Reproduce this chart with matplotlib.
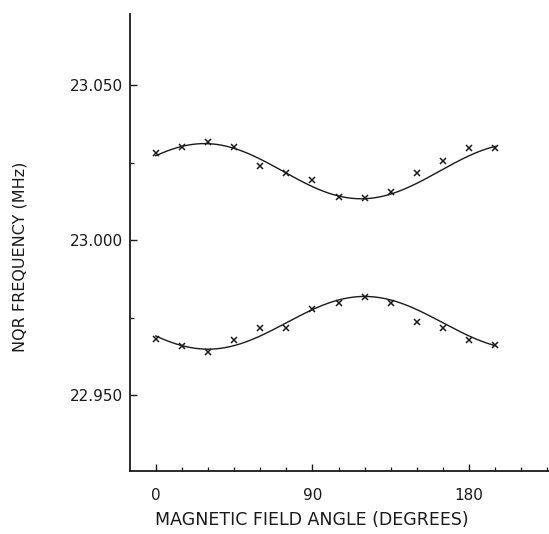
import numpy as np
import matplotlib
matplotlib.use("Agg")
import matplotlib.pyplot as plt
from matplotlib.ticker import MultipleLocator, FixedLocator

# ---- data ----
angles = [0, 15, 30, 45, 60, 75, 90, 105, 120, 135, 150, 165, 180, 195]
upper_freq = [23.0280, 23.0300, 23.0317, 23.0300, 23.0238, 23.0217, 23.0195,
              23.0138, 23.0135, 23.0156, 23.0217, 23.0256, 23.0297, 23.0297]
lower_freq = [22.9680, 22.9659, 22.9639, 22.9679, 22.9717, 22.9717, 22.9776,
              22.9797, 22.9816, 22.9797, 22.9735, 22.9715, 22.9676, 22.9663]

# fitted curves (mean, amplitude, phase in degrees)
upper_fit = (23.0222, 0.0089, 28.0)
lower_fit = (22.9733, -0.0085, 30.0)

x_ticks = [0, 90, 180]
x_ticklabels = ["0", "90", "180"]
y_ticks = [22.950, 23.000, 23.050]
y_ticklabels = ["22.950", "23.000", "23.050"]

xlabel = "MAGNETIC FIELD ANGLE (DEGREES)"
ylabel = "NQR FREQUENCY (MHz)"

# ---- figure ----
fig = plt.figure(figsize=(5.49, 5.34), dpi=100)
ax = fig.add_axes([130/549, 63/534, 419/549, 457/534])

ink = "#1a1a1a"
theta = np.linspace(angles[0], angles[-1], 400)
for (m, a, ph) in (upper_fit, lower_fit):
    ax.plot(theta, m + a*np.cos(np.radians(2*(theta - ph))), color=ink, lw=1.0)

ax.plot(angles, upper_freq, linestyle="none", marker="x", color=ink, ms=4, mew=1.1)
ax.plot(angles, lower_freq, linestyle="none", marker="x", color=ink, ms=4, mew=1.1)

ax.set_xlim(-14.8, 225.9)
ax.set_ylim(22.9255, 23.0729)

for s in ("top", "right"):
    ax.spines[s].set_visible(False)
for s in ("left", "bottom"):
    ax.spines[s].set_linewidth(1.3)
    ax.spines[s].set_color(ink)

ax.xaxis.set_major_locator(FixedLocator(x_ticks))
ax.set_xticklabels(x_ticklabels)
ax.xaxis.set_minor_locator(MultipleLocator(15))
ax.yaxis.set_major_locator(FixedLocator(y_ticks))
ax.set_yticklabels(y_ticklabels)
ax.yaxis.set_minor_locator(MultipleLocator(0.025))

ax.tick_params(which="major", direction="in", length=5, width=1.0, color=ink,
               labelsize=11, labelcolor=ink)
ax.tick_params(which="minor", direction="in", length=3, width=0.9, color=ink)
ax.tick_params(axis="x", which="major", pad=12)
ax.tick_params(axis="y", which="major", pad=5)

ax.set_xlabel(xlabel, fontsize=12.5, color=ink, loc="left")
ax.xaxis.label.set_horizontalalignment("left")
ax.xaxis.set_label_coords(25/419, -0.088)

ax.set_ylabel(ylabel, fontsize=11.5, color=ink)
ax.yaxis.label.set_verticalalignment("center")
ax.yaxis.set_label_coords(-0.2625, 0.468)

fig.savefig("out.png", dpi=100)
